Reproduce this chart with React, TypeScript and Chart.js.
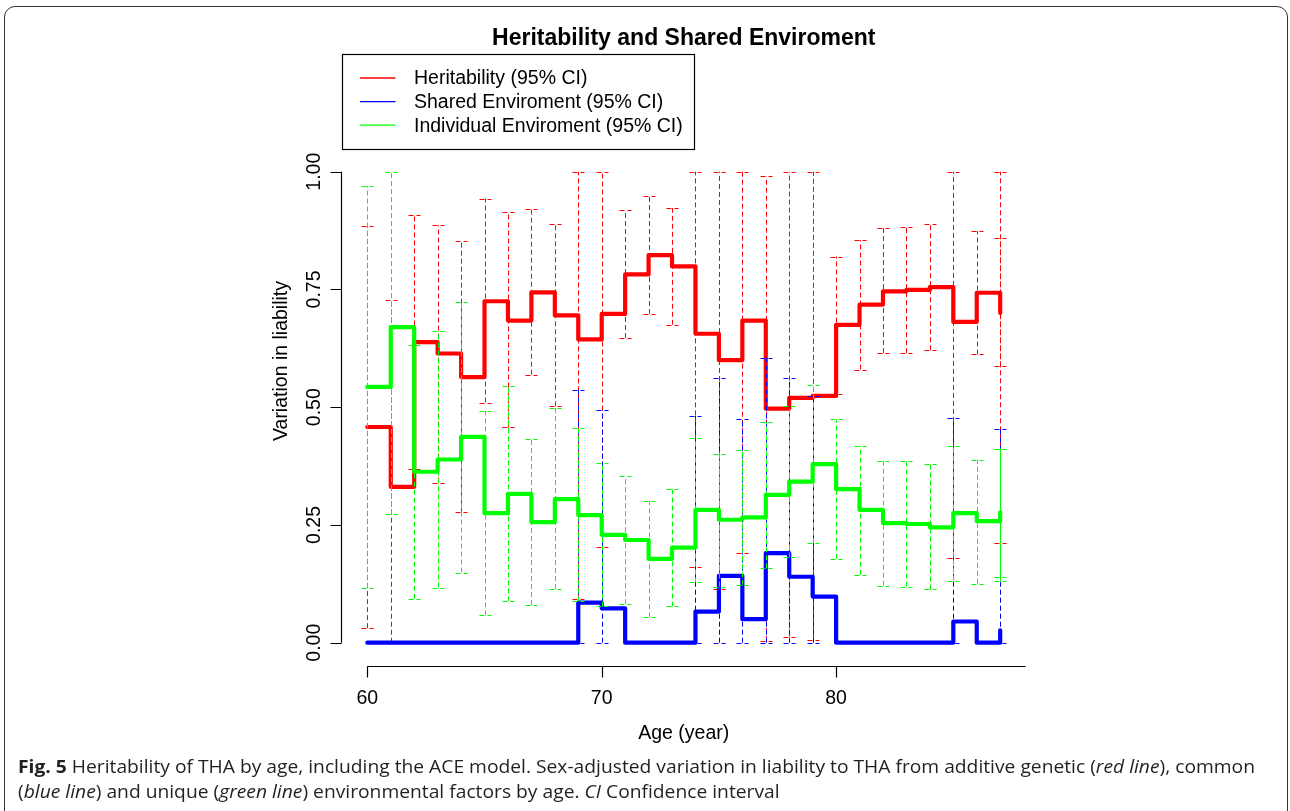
import React, { useEffect, useLayoutEffect, useRef, useState } from "react";
import { Chart, registerables } from "chart.js";

Chart.register(...registerables);

// ---------- data ----------
const ages = [60, 61, 62, 63, 64, 65, 66, 67, 68, 69, 70, 71, 72, 73, 74, 75, 76, 77, 78, 79, 80, 81, 82, 83, 84, 85, 86, 87];
const heritability = [0.458, 0.331, 0.638, 0.614, 0.564, 0.725, 0.684, 0.744, 0.695, 0.644, 0.698, 0.782, 0.823, 0.799, 0.656, 0.600, 0.684, 0.497, 0.520, 0.524, 0.675, 0.718, 0.746, 0.749, 0.755, 0.681, 0.743, 0.700];
const sharedEnv = [0, 0, 0, 0, 0, 0, 0, 0, 0, 0.085, 0.073, 0, 0, 0, 0.066, 0.142, 0.050, 0.190, 0.140, 0.098, 0, 0, 0, 0, 0, 0.045, 0, 0.026];
const individualEnv = [0.543, 0.670, 0.363, 0.389, 0.437, 0.275, 0.316, 0.256, 0.305, 0.271, 0.229, 0.218, 0.178, 0.202, 0.282, 0.261, 0.266, 0.314, 0.342, 0.379, 0.326, 0.282, 0.254, 0.252, 0.245, 0.275, 0.258, 0.277];

// confidence intervals (age 87 carries two intervals)
const ciAges = [60, 61, 62, 63, 64, 65, 66, 67, 68, 69, 70, 71, 72, 73, 74, 75, 76, 77, 78, 79, 80, 81, 82, 83, 84, 85, 86, 87, 87];
const heritLow = [0.031, 0.0, 0.368, 0.340, 0.278, 0.510, 0.457, 0.569, 0.502, 0.092, 0.204, 0.647, 0.698, 0.675, 0.160, 0.114, 0.191, 0.004, 0.013, 0.006, 0.527, 0.580, 0.615, 0.615, 0.621, 0.180, 0.612, 0.211, 0.587];
const heritHigh = [0.884, 0.728, 0.909, 0.886, 0.852, 0.943, 0.914, 0.921, 0.888, 1.0, 1.0, 0.919, 0.949, 0.923, 1.0, 1.0, 1.0, 0.990, 1.0, 1.0, 0.820, 0.855, 0.880, 0.882, 0.889, 1.0, 0.874, 1.0, 0.860];
const sharedLow = [0, 0, 0, 0, 0, 0, 0, 0, 0, 0, 0, 0, 0, 0, 0, 0, 0, 0, 0, 0, 0, 0, 0, 0, 0, 0, 0, 0, 0];
const sharedHigh = [0, 0, 0, 0, 0, 0, 0, 0, 0, 0.537, 0.494, 0, 0, 0, 0.482, 0.561, 0.474, 0.605, 0.561, 0.524, 0, 0, 0, 0, 0, 0.477, 0, 0.453, 0];
const indivLow = [0.117, 0.273, 0.093, 0.117, 0.149, 0.058, 0.088, 0.080, 0.114, 0.088, 0.077, 0.082, 0.054, 0.077, 0.128, 0.119, 0.122, 0.158, 0.181, 0.211, 0.178, 0.144, 0.121, 0.119, 0.113, 0.132, 0.125, 0.130, 0.140];
const indivHigh = [0.970, 1.0, 0.633, 0.662, 0.723, 0.492, 0.544, 0.432, 0.499, 0.455, 0.382, 0.354, 0.301, 0.326, 0.435, 0.400, 0.410, 0.468, 0.503, 0.548, 0.474, 0.418, 0.386, 0.386, 0.379, 0.417, 0.388, 0.412, 0.412];

const yTicks = [0, 0.25, 0.5, 0.75, 1];
const yTickLabels = ["0.00", "0.25", "0.50", "0.75", "1.00"];
const xTicks = [60, 70, 80];
const xTickLabels = ["60", "70", "80"];

const titleText = "Heritability and Shared Enviroment";
const xAxisTitle = "Age (year)";
const yAxisTitle = "Variation in liability";
const legendLabels = ["Heritability (95% CI)", "Shared Enviroment (95% CI)", "Individual Enviroment (95% CI)"];
const seriesColors = ["#ff0000", "#0000ff", "#00ff00"];

const FONT = '"Liberation Sans", Arial, Helvetica, sans-serif';

function toPoints(xs: number[], ys: number[]) {
  return xs.map((x, i) => ({ x, y: ys[i] }));
}

const rPlotPlugin = {
  id: "rplot",
  afterDatasetDraw(chart: any, args: any) {
    const ds = chart.data.datasets[args.index];
    if (!ds || !ds.ciLow) return;
    const { ctx } = chart;
    const xs = chart.scales.x;
    const ys = chart.scales.y;
    ctx.save();
    ctx.strokeStyle = ds.borderColor;
    ctx.lineWidth = 1;
    ctx.setLineDash([5, 3]);
    const cap = 6;
    for (let i = 0; i < ciAges.length; i++) {
      const lo = ds.ciLow[i];
      const hi = ds.ciHigh[i];
      if (Math.abs(hi - lo) < 1e-9) continue;
      const px = Math.round(xs.getPixelForValue(ciAges[i])) + 0.5;
      const pl = ys.getPixelForValue(lo);
      const ph = ys.getPixelForValue(hi);
      ctx.beginPath();
      ctx.moveTo(px, pl);
      ctx.lineTo(px, ph);
      ctx.stroke();
      ctx.beginPath();
      ctx.moveTo(px - cap, Math.round(ph) + 0.5);
      ctx.lineTo(px + cap, Math.round(ph) + 0.5);
      ctx.stroke();
      ctx.beginPath();
      ctx.moveTo(px - cap, Math.round(pl) + 0.5);
      ctx.lineTo(px + cap, Math.round(pl) + 0.5);
      ctx.stroke();
    }
    ctx.restore();
  },
  afterDraw(chart: any) {
    const { ctx, chartArea } = chart;
    const xs = chart.scales.x;
    const ys = chart.scales.y;
    const left = Math.floor(chartArea.left) - 0.5;
    const bottom = Math.round(chartArea.bottom) + 0.5;
    const tickLen = 11;
    ctx.save();
    ctx.strokeStyle = "#000";
    ctx.fillStyle = "#000";
    ctx.lineWidth = 1.2;
    ctx.setLineDash([]);

    // y axis
    const y0 = ys.getPixelForValue(yTicks[0]);
    const y1 = ys.getPixelForValue(yTicks[yTicks.length - 1]);
    ctx.beginPath();
    ctx.moveTo(left, y0);
    ctx.lineTo(left, y1);
    yTicks.forEach((v) => {
      const py = Math.round(ys.getPixelForValue(v)) + 0.5;
      ctx.moveTo(left, py);
      ctx.lineTo(left - tickLen, py);
    });
    ctx.stroke();
    ctx.font = `19.5px ${FONT}`;
    ctx.textAlign = "center";
    ctx.textBaseline = "alphabetic";
    yTicks.forEach((v, i) => {
      const py = ys.getPixelForValue(v);
      ctx.save();
      ctx.translate(left - 21.5, py);
      ctx.rotate(-Math.PI / 2);
      ctx.fillText(yTickLabels[i], 0, 0);
      ctx.restore();
    });

    // x axis
    const xa = xs.getPixelForValue(xTicks[0]);
    const xb = xs.getPixelForValue(xs.max);
    ctx.beginPath();
    ctx.moveTo(xa, bottom);
    ctx.lineTo(xb, bottom);
    xTicks.forEach((v) => {
      const px = Math.round(xs.getPixelForValue(v)) + 0.5;
      ctx.moveTo(px, bottom);
      ctx.lineTo(px, bottom + tickLen);
    });
    ctx.stroke();
    xTicks.forEach((v, i) => {
      const px = xs.getPixelForValue(v);
      ctx.fillText(xTickLabels[i], px, bottom + 37);
    });

    // axis titles
    const cx = (chartArea.left + chartArea.right) / 2;
    ctx.fillText(xAxisTitle, cx, bottom + 72);
    ctx.save();
    ctx.translate(left - 55, 361);
    ctx.rotate(-Math.PI / 2);
    ctx.fillText(yAxisTitle, 0, 0);
    ctx.restore();

    // main title
    ctx.font = `bold 23px ${FONT}`;
    ctx.fillText(titleText, cx, 45);

    // legend
    const lx = 342.5, ly = 54.5, lw = 352, lh = 95;
    ctx.lineWidth = 1.2;
    ctx.strokeStyle = "#000";
    ctx.strokeRect(lx, ly, lw, lh);
    ctx.font = `19.5px ${FONT}`;
    ctx.textAlign = "left";
    ctx.textBaseline = "middle";
    legendLabels.forEach((lab, i) => {
      const ry = ly + 23.5 + i * 23.6;
      ctx.strokeStyle = seriesColors[i];
      ctx.lineWidth = 1.3;
      ctx.beginPath();
      ctx.moveTo(lx + 17.5, ry);
      ctx.lineTo(lx + 53, ry);
      ctx.stroke();
      ctx.fillStyle = "#000";
      ctx.fillText(lab, lx + 71.5, ry + 1);
    });
    ctx.restore();
  },
};

export default function App() {
  const canvasRef = useRef<HTMLCanvasElement | null>(null);
  const line1Ref = useRef<HTMLDivElement | null>(null);
  const line2Ref = useRef<HTMLDivElement | null>(null);
  const [scale, setScale] = useState(1);

  useLayoutEffect(() => {
    const el = line1Ref.current;
    if (!el) return;
    const w = el.getBoundingClientRect().width;
    if (w > 0) setScale(1237 / w);
  }, []);

  useEffect(() => {
    if (!canvasRef.current) return;
    const mk = (label: string, xsVals: number[], ysVals: number[], color: string, order: number, lo: number[], hi: number[]) => ({
      label,
      data: toPoints(xsVals, ysVals),
      borderColor: color,
      backgroundColor: color,
      borderWidth: 4.2,
      stepped: "before",
      pointRadius: 0,
      pointHoverRadius: 0,
      fill: false,
      tension: 0,
      borderCapStyle: "round",
      borderJoinStyle: "round",
      order,
      ciLow: lo,
      ciHigh: hi,
    });
    const chart = new Chart(canvasRef.current, {
      type: "line",
      data: {
        datasets: [
          mk(legendLabels[0], ages, heritability, seriesColors[0], 3, heritLow, heritHigh),
          mk(legendLabels[1], ages, sharedEnv, seriesColors[1], 2, sharedLow, sharedHigh),
          mk(legendLabels[2], ages, individualEnv, seriesColors[2], 1, indivLow, indivHigh),
        ] as any,
      },
      options: {
        animation: false,
        responsive: true,
        maintainAspectRatio: false,
        devicePixelRatio: 1,
        layout: { padding: { left: 342, right: 264.5, top: 152.9, bottom: 145 } },
        plugins: {
          legend: { display: false },
          title: { display: false },
          tooltip: { enabled: false },
        },
        events: [],
        scales: {
          x: { type: "linear", display: false, min: 58.92, max: 88.08 },
          y: { type: "linear", display: false, min: -0.0495, max: 1.04 },
        },
      } as any,
      plugins: [rPlotPlugin as any],
    });
    return () => chart.destroy();
  }, []);

  const capStyle: React.CSSProperties = {
    whiteSpace: "nowrap",
    display: "inline-block",
    transformOrigin: "0 0",
    transform: `scaleX(${scale})`,
  };

  return (
    <div style={{ position: "absolute", left: 0, top: 0, width: 1290, height: 811, overflow: "hidden", background: "#fff" }}>
      <div
        style={{
          position: "absolute",
          left: 4,
          top: 6,
          width: 1284,
          height: 830,
          border: "1.6px solid #333",
          borderRadius: 11,
          boxSizing: "border-box",
        }}
      />
      <div style={{ position: "absolute", left: 0, top: 0, width: 1290, height: 811 }}>
        <canvas ref={canvasRef} />
      </div>
      <div
        style={{
          position: "absolute",
          left: 18,
          top: 754,
          fontFamily: '"Open Sans", sans-serif',
          fontSize: 18.5,
          lineHeight: "24.5px",
          color: "#231f20",
        }}
      >
        <div ref={line1Ref} style={capStyle}>
          <b>Fig. 5</b> Heritability of THA by age, including the ACE model. Sex-adjusted variation in liability to THA from additive genetic (<i>red line</i>), common
        </div>
        <br />
        <div ref={line2Ref} style={capStyle}>
          (<i>blue line</i>) and unique (<i>green line</i>) environmental factors by age. <i>CI</i> Confidence interval
        </div>
      </div>
    </div>
  );
}
